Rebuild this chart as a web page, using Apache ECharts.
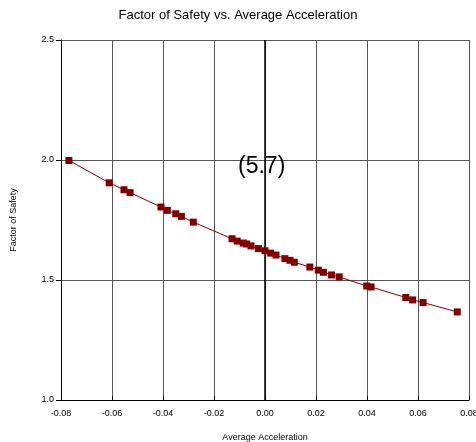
<!DOCTYPE html>
<html><head><meta charset="utf-8">
<script src="https://cdn.jsdelivr.net/npm/echarts@6/dist/echarts.min.js"></script>
<style>html,body{margin:0;padding:0;background:#fff}#c{width:476px;height:442px}</style>
</head><body><div id="c"></div>
<script>
const accel = [-0.0769,-0.0611,-0.0553,-0.0529,-0.0408,-0.0383,-0.0350,-0.0328,-0.0281,-0.0129,-0.0109,-0.0085,-0.0072,-0.0055,-0.0026,0.0000,0.0022,0.0043,0.0078,0.0098,0.0115,0.0176,0.0209,0.0229,0.0261,0.0291,0.0399,0.0416,0.0552,0.0579,0.0620,0.0754];
const fos = [1.998,1.905,1.876,1.864,1.804,1.790,1.776,1.765,1.741,1.672,1.662,1.654,1.650,1.642,1.631,1.622,1.612,1.604,1.589,1.582,1.574,1.554,1.541,1.532,1.521,1.513,1.475,1.471,1.427,1.417,1.406,1.367];
const titleText = 'Factor of Safety vs. Average Acceleration';
const xName = 'Average Acceleration';
const yName = 'Factor of Safety';
const annotation = '(5.7)';

const chart = echarts.init(document.getElementById('c'), null, {renderer:'canvas'});
const font = 'Liberation Sans, Arial, sans-serif';
chart.setOption({
  animation:false,
  backgroundColor:'#fff',
  title:{text:titleText,left:'center',top:4,textStyle:{fontFamily:font,fontSize:13,fontWeight:'normal',color:'#000'}},
  grid:{left:61,right:7,top:40,bottom:42,show:false,containLabel:false,outerBoundsMode:'none'},
  xAxis:{type:'value',min:-0.08,max:0.08,interval:0.02,
    name:xName,nameLocation:'middle',nameGap:33,nameTextStyle:{fontFamily:font,fontSize:9,color:'#000'},
    axisLine:{show:true,onZero:false,lineStyle:{color:'#000',width:1}},
    axisTick:{show:true,inside:true,length:4,lineStyle:{color:'#000'}},
    axisLabel:{fontFamily:font,fontSize:9,color:'#000',margin:9,formatter:v=>v.toFixed(2)},
    splitLine:{show:true,lineStyle:{color:'#555',width:1}}},
  yAxis:{type:'value',min:1.0,max:2.5,interval:0.5,
    name:yName,nameLocation:'middle',nameGap:43,nameTextStyle:{fontFamily:font,fontSize:9,color:'#000'},
    axisLine:{show:true,onZero:false,lineStyle:{color:'#000',width:1}},
    axisTick:{show:true,inside:false,length:5,lineStyle:{color:'#000'}},
    axisLabel:{fontFamily:font,fontSize:9,color:'#000',margin:7,formatter:v=>v.toFixed(1)},
    splitLine:{show:true,lineStyle:{color:'#555',width:1}}},
  graphic:[
    {type:'text',left:238,top:155,style:{text:annotation,font:'23px '+font,fill:'#000'},z:10}
  ],
  series:[{type:'line',data:accel.map((a,i)=>[a,fos[i]]),
    symbol:'rect',symbolSize:7,showAllSymbol:true,
    lineStyle:{color:'#800000',width:1},itemStyle:{color:'#800000'},z:5,
    markLine:{silent:true,symbol:'none',label:{show:false},
      lineStyle:{color:'#000',width:1.5,type:'solid'},data:[{xAxis:0}],z:1}}]
});
</script></body></html>
